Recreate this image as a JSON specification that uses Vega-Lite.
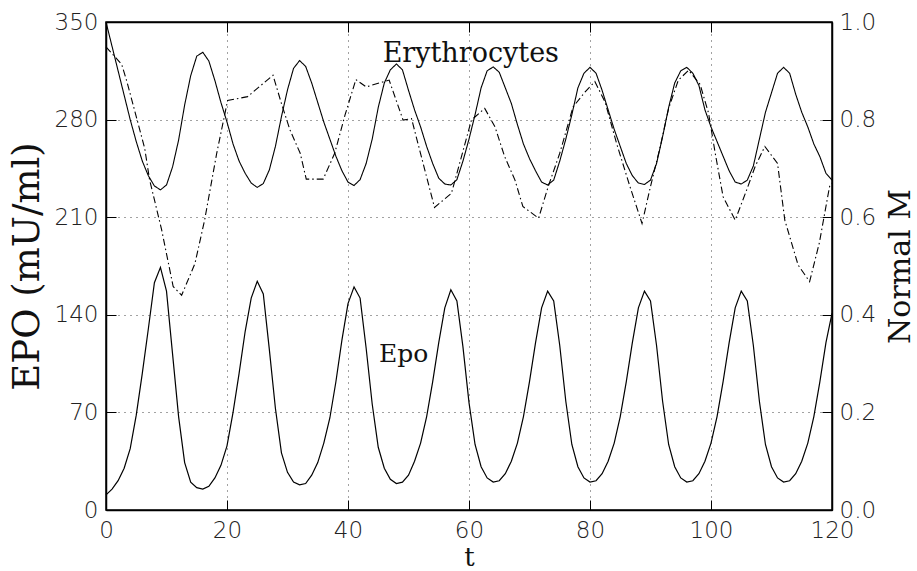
{
  "$schema": "https://vega.github.io/schema/vega-lite/v6.json",
  "width": 726,
  "height": 488,
  "autosize": {"type": "none"},
  "padding": {"left": 106, "top": 22, "right": 85, "bottom": 61},
  "background": "white",
  "view": {"stroke": "black", "strokeWidth": 1.5},
  "config": {
    "axis": {
      "labelFont": "DejaVu Sans",
      "labelFontSize": 23,
      "labelFontWeight": 200,
      "labelColor": "#222",
      "titleFont": "DejaVu Serif",
      "titleFontWeight": "normal",
      "titleColor": "#111",
      "domainColor": "black",
      "domainWidth": 1.5,
      "tickColor": "black",
      "tickWidth": 1,
      "tickSize": -10,
      "gridColor": "#444",
      "gridDash": [1, 5],
      "gridWidth": 1
    }
  },
  "datasets": {
    "epo": [
      {"t":0,"epo":10.8},{"t":1,"epo":15},{"t":2,"epo":21},{"t":3,"epo":30},{"t":4,"epo":44},{"t":5,"epo":68},{"t":6,"epo":98},{"t":7,"epo":130},{"t":8,"epo":163},{"t":9,"epo":174},
      {"t":10,"epo":157},{"t":11,"epo":112},{"t":12,"epo":67},{"t":13,"epo":34},{"t":14,"epo":20},{"t":15,"epo":16},{"t":16,"epo":15},{"t":17,"epo":17},{"t":18,"epo":23},{"t":19,"epo":32},
      {"t":20,"epo":46},{"t":21,"epo":70},{"t":22,"epo":98},{"t":23,"epo":128},{"t":24,"epo":152},{"t":25,"epo":164},{"t":26,"epo":155},{"t":27,"epo":115},{"t":28,"epo":73},{"t":29,"epo":41},
      {"t":30,"epo":27},{"t":31,"epo":20},{"t":32,"epo":18},{"t":33,"epo":19},{"t":34,"epo":25},{"t":35,"epo":34},{"t":36,"epo":48},{"t":37,"epo":66},{"t":38,"epo":92},{"t":39,"epo":122},
      {"t":40,"epo":148},{"t":41,"epo":160},{"t":42,"epo":152},{"t":43,"epo":116},{"t":44,"epo":76},{"t":45,"epo":45},{"t":46,"epo":30},{"t":47,"epo":22},{"t":48,"epo":19},{"t":49,"epo":20},
      {"t":50,"epo":25},{"t":51,"epo":35},{"t":52,"epo":48},{"t":53,"epo":67},{"t":54,"epo":92},{"t":55,"epo":120},{"t":56,"epo":145},{"t":57,"epo":158},{"t":58,"epo":150},{"t":59,"epo":117},
      {"t":60,"epo":77},{"t":61,"epo":47},{"t":62,"epo":31},{"t":63,"epo":23},{"t":64,"epo":20},{"t":65,"epo":21},{"t":66,"epo":26},{"t":67,"epo":35},{"t":68,"epo":48},{"t":69,"epo":67},
      {"t":70,"epo":92},{"t":71,"epo":120},{"t":72,"epo":145},{"t":73,"epo":157},{"t":74,"epo":150},{"t":75,"epo":118},{"t":76,"epo":78},{"t":77,"epo":47},{"t":78,"epo":31},{"t":79,"epo":23},
      {"t":80,"epo":20},{"t":81,"epo":21},{"t":82,"epo":26},{"t":83,"epo":35},{"t":84,"epo":48},{"t":85,"epo":67},{"t":86,"epo":92},{"t":87,"epo":120},{"t":88,"epo":145},{"t":89,"epo":157},
      {"t":90,"epo":150},{"t":91,"epo":118},{"t":92,"epo":78},{"t":93,"epo":47},{"t":94,"epo":31},{"t":95,"epo":23},{"t":96,"epo":20},{"t":97,"epo":21},{"t":98,"epo":26},{"t":99,"epo":35},
      {"t":100,"epo":48},{"t":101,"epo":67},{"t":102,"epo":92},{"t":103,"epo":120},{"t":104,"epo":145},{"t":105,"epo":157},{"t":106,"epo":150},{"t":107,"epo":118},{"t":108,"epo":78},{"t":109,"epo":47},
      {"t":110,"epo":31},{"t":111,"epo":23},{"t":112,"epo":20},{"t":113,"epo":21},{"t":114,"epo":26},{"t":115,"epo":35},{"t":116,"epo":48},{"t":117,"epo":67},{"t":118,"epo":92},{"t":119,"epo":120},
      {"t":120,"epo":141}
    ],
    "m": [
      {"s":"model","t":0,"M":1.0},{"s":"model","t":1,"M":0.95},{"s":"model","t":2,"M":0.9},{"s":"model","t":3,"M":0.85},{"s":"model","t":4,"M":0.8},{"s":"model","t":5,"M":0.755},{"s":"model","t":6,"M":0.715},{"s":"model","t":7,"M":0.685},{"s":"model","t":8,"M":0.664},{"s":"model","t":9,"M":0.656},
      {"s":"model","t":10,"M":0.666},{"s":"model","t":11,"M":0.703},{"s":"model","t":12,"M":0.758},{"s":"model","t":13,"M":0.83},{"s":"model","t":14,"M":0.89},{"s":"model","t":15,"M":0.93},{"s":"model","t":16,"M":0.938},{"s":"model","t":17,"M":0.92},{"s":"model","t":18,"M":0.88},{"s":"model","t":19,"M":0.835},
      {"s":"model","t":20,"M":0.795},{"s":"model","t":21,"M":0.75},{"s":"model","t":22,"M":0.715},{"s":"model","t":23,"M":0.69},{"s":"model","t":24,"M":0.67},{"s":"model","t":25,"M":0.661},{"s":"model","t":26,"M":0.669},{"s":"model","t":27,"M":0.697},{"s":"model","t":28,"M":0.745},{"s":"model","t":29,"M":0.806},
      {"s":"model","t":30,"M":0.861},{"s":"model","t":31,"M":0.905},{"s":"model","t":32,"M":0.921},{"s":"model","t":33,"M":0.909},{"s":"model","t":34,"M":0.875},{"s":"model","t":35,"M":0.835},{"s":"model","t":36,"M":0.795},{"s":"model","t":37,"M":0.76},{"s":"model","t":38,"M":0.725},{"s":"model","t":39,"M":0.695},
      {"s":"model","t":40,"M":0.672},{"s":"model","t":41,"M":0.665},{"s":"model","t":42,"M":0.677},{"s":"model","t":43,"M":0.71},{"s":"model","t":44,"M":0.76},{"s":"model","t":45,"M":0.825},{"s":"model","t":46,"M":0.875},{"s":"model","t":47,"M":0.902},{"s":"model","t":48,"M":0.914},{"s":"model","t":49,"M":0.902},
      {"s":"model","t":50,"M":0.86},{"s":"model","t":51,"M":0.82},{"s":"model","t":52,"M":0.785},{"s":"model","t":53,"M":0.745},{"s":"model","t":54,"M":0.71},{"s":"model","t":55,"M":0.68},{"s":"model","t":56,"M":0.668},{"s":"model","t":57,"M":0.666},{"s":"model","t":58,"M":0.677},{"s":"model","t":59,"M":0.715},
      {"s":"model","t":60,"M":0.76},{"s":"model","t":61,"M":0.81},{"s":"model","t":62,"M":0.865},{"s":"model","t":63,"M":0.9},{"s":"model","t":64,"M":0.908},{"s":"model","t":65,"M":0.897},{"s":"model","t":66,"M":0.865},{"s":"model","t":67,"M":0.833},{"s":"model","t":68,"M":0.79},{"s":"model","t":69,"M":0.75},
      {"s":"model","t":70,"M":0.72},{"s":"model","t":71,"M":0.695},{"s":"model","t":72,"M":0.672},{"s":"model","t":73,"M":0.666},{"s":"model","t":74,"M":0.676},{"s":"model","t":75,"M":0.715},{"s":"model","t":76,"M":0.76},{"s":"model","t":77,"M":0.81},{"s":"model","t":78,"M":0.865},{"s":"model","t":79,"M":0.895},
      {"s":"model","t":80,"M":0.907},{"s":"model","t":81,"M":0.895},{"s":"model","t":82,"M":0.86},{"s":"model","t":83,"M":0.82},{"s":"model","t":84,"M":0.78},{"s":"model","t":85,"M":0.745},{"s":"model","t":86,"M":0.71},{"s":"model","t":87,"M":0.685},{"s":"model","t":88,"M":0.67},{"s":"model","t":89,"M":0.667},
      {"s":"model","t":90,"M":0.676},{"s":"model","t":91,"M":0.71},{"s":"model","t":92,"M":0.765},{"s":"model","t":93,"M":0.825},{"s":"model","t":94,"M":0.875},{"s":"model","t":95,"M":0.9},{"s":"model","t":96,"M":0.907},{"s":"model","t":97,"M":0.895},{"s":"model","t":98,"M":0.87},{"s":"model","t":99,"M":0.82},
      {"s":"model","t":100,"M":0.785},{"s":"model","t":101,"M":0.755},{"s":"model","t":102,"M":0.725},{"s":"model","t":103,"M":0.695},{"s":"model","t":104,"M":0.672},{"s":"model","t":105,"M":0.668},{"s":"model","t":106,"M":0.676},{"s":"model","t":107,"M":0.705},{"s":"model","t":108,"M":0.76},{"s":"model","t":109,"M":0.815},
      {"s":"model","t":110,"M":0.855},{"s":"model","t":111,"M":0.895},{"s":"model","t":112,"M":0.907},{"s":"model","t":113,"M":0.895},{"s":"model","t":114,"M":0.852},{"s":"model","t":115,"M":0.815},{"s":"model","t":116,"M":0.785},{"s":"model","t":117,"M":0.75},{"s":"model","t":118,"M":0.724},{"s":"model","t":119,"M":0.69},
      {"s":"model","t":120,"M":0.676},
      {"s":"data","t":0,"M":0.949},{"s":"data","t":2.6,"M":0.913},{"s":"data","t":3.5,"M":0.876},{"s":"data","t":6.4,"M":0.741},{"s":"data","t":7.2,"M":0.677},{"s":"data","t":9.2,"M":0.574},{"s":"data","t":11.1,"M":0.458},{"s":"data","t":12.5,"M":0.44},{"s":"data","t":14.7,"M":0.505},{"s":"data","t":16.3,"M":0.594},
      {"s":"data","t":18.3,"M":0.731},{"s":"data","t":20.1,"M":0.839},{"s":"data","t":23.4,"M":0.847},{"s":"data","t":27.6,"M":0.891},{"s":"data","t":29,"M":0.833},{"s":"data","t":30.4,"M":0.779},{"s":"data","t":32.1,"M":0.731},{"s":"data","t":33.1,"M":0.678},{"s":"data","t":35.9,"M":0.678},{"s":"data","t":37.8,"M":0.731},
      {"s":"data","t":39.5,"M":0.809},{"s":"data","t":41.3,"M":0.882},{"s":"data","t":43,"M":0.867},{"s":"data","t":46.8,"M":0.881},{"s":"data","t":49.1,"M":0.799},{"s":"data","t":50.5,"M":0.802},{"s":"data","t":54.3,"M":0.62},{"s":"data","t":57.1,"M":0.649},{"s":"data","t":60.4,"M":0.799},{"s":"data","t":62.6,"M":0.823},
      {"s":"data","t":64.3,"M":0.785},{"s":"data","t":65.9,"M":0.724},{"s":"data","t":67.6,"M":0.676},{"s":"data","t":68.9,"M":0.622},{"s":"data","t":71.5,"M":0.598},{"s":"data","t":73.1,"M":0.663},{"s":"data","t":75,"M":0.731},{"s":"data","t":77.2,"M":0.826},{"s":"data","t":79.2,"M":0.857},{"s":"data","t":80.8,"M":0.878},
      {"s":"data","t":82.5,"M":0.836},{"s":"data","t":84.4,"M":0.751},{"s":"data","t":86.6,"M":0.663},{"s":"data","t":88.6,"M":0.587},{"s":"data","t":90,"M":0.663},{"s":"data","t":91.6,"M":0.744},{"s":"data","t":93,"M":0.823},{"s":"data","t":94.6,"M":0.881},{"s":"data","t":96.3,"M":0.901},{"s":"data","t":98.2,"M":0.872},
      {"s":"data","t":99.6,"M":0.813},{"s":"data","t":100.7,"M":0.731},{"s":"data","t":102,"M":0.642},{"s":"data","t":104,"M":0.594},{"s":"data","t":105.9,"M":0.656},{"s":"data","t":107.3,"M":0.704},{"s":"data","t":108.9,"M":0.745},{"s":"data","t":111,"M":0.71},{"s":"data","t":112.2,"M":0.594},{"s":"data","t":114.4,"M":0.502},
      {"s":"data","t":116.3,"M":0.468},{"s":"data","t":117.9,"M":0.547},{"s":"data","t":119.6,"M":0.663},{"s":"data","t":120,"M":0.67}
    ]
  },
  "layer": [
    {
      "layer": [
        {
          "data": {"name": "epo"},
          "mark": {"type": "line", "color": "black", "strokeWidth": 1.2},
          "encoding": {
            "x": {"field": "t", "type": "quantitative", "scale": {"domain": [0, 120], "nice": false},
                  "axis": {"orient": "bottom", "values": [0, 20, 40, 60, 80, 100, 120], "title": "t", "titleFontSize": 26, "titlePadding": 2, "labelPadding": 19, "grid": true, "labelFlush": false}},
            "y": {"field": "epo", "type": "quantitative", "scale": {"domain": [0, 350], "nice": false},
                  "axis": {"orient": "left", "values": [0, 70, 140, 210, 280, 350], "title": "EPO (mU/ml)", "titleFontSize": 37, "titlePadding": 8, "labelPadding": 18, "grid": true, "labelFlush": false}}
          }
        },
        {
          "data": {"values": [{"label": "Erythrocytes"}]},
          "mark": {"type": "text", "font": "DejaVu Serif", "fontSize": 27, "align": "center", "baseline": "alphabetic", "color": "#111"},
          "encoding": {
            "x": {"datum": 60.3, "type": "quantitative"},
            "y": {"datum": 321, "type": "quantitative"},
            "text": {"field": "label"}
          }
        },
        {
          "data": {"values": [{"label": "Epo"}]},
          "mark": {"type": "text", "font": "DejaVu Serif", "fontSize": 25, "align": "center", "baseline": "alphabetic", "color": "#111"},
          "encoding": {
            "x": {"datum": 49.2, "type": "quantitative"},
            "y": {"datum": 106, "type": "quantitative"},
            "text": {"field": "label"}
          }
        }
      ]
    },
    {
      "data": {"name": "m"},
      "mark": {"type": "line", "color": "black", "strokeWidth": 1.1},
      "encoding": {
        "x": {"field": "t", "type": "quantitative", "scale": {"domain": [0, 120], "nice": false},
              "axis": {"orient": "top", "values": [0, 20, 40, 60, 80, 100, 120], "labels": false, "title": null, "grid": false}},
        "y": {"field": "M", "type": "quantitative", "scale": {"domain": [0, 1], "nice": false},
              "axis": {"orient": "right", "values": [0, 0.2, 0.4, 0.6, 0.8, 1.0], "format": ".1f", "title": "Normal M", "titleAngle": 270, "titleBaseline": "bottom", "titleFontSize": 30, "titlePadding": 40, "labelPadding": 17, "grid": false, "labelFlush": false}},
        "strokeDash": {"field": "s", "type": "nominal", "scale": {"domain": ["model", "data"], "range": [[1, 0], [7, 3, 1.5, 3]]}, "legend": null},
        "order": {"field": "t", "type": "quantitative"}
      }
    }
  ],
  "resolve": {"scale": {"y": "independent"}, "axis": {"x": "independent"}}
}
